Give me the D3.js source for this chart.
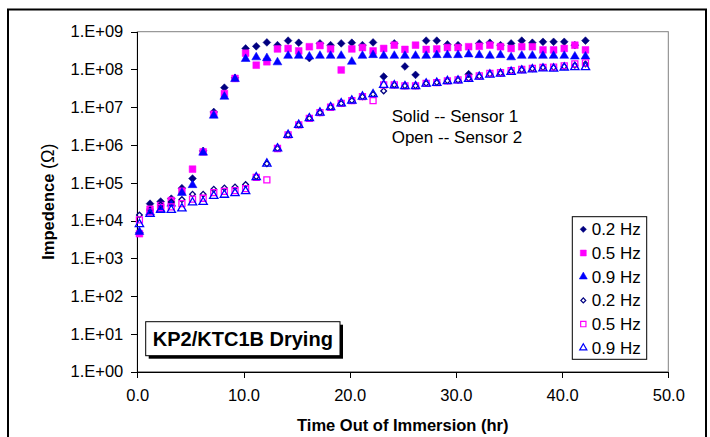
<!DOCTYPE html>
<html lang="en">
<head>
<meta charset="utf-8">
<title>KP2/KTC1B Drying</title>
<script src="https://cdn.jsdelivr.net/npm/d3@7"></script>
<style>
  body { margin: 0; background: #fff; }
  svg { display: block; font-family: "Liberation Sans", Arial, sans-serif; }
  .axis text { font-size: 16.5px; fill: #000; }
  .axis line, .axis path { stroke: #000; shape-rendering: crispEdges; }
</style>
</head>
<body>
<svg id="chart" width="710" height="437"></svg>
<script>
// time out of immersion (hr)
var hours = [0.2, 1.2, 2.2, 3.2, 4.2, 5.2, 6.2, 7.2, 8.2, 9.2, 10.2, 11.2, 12.2, 13.2, 14.2,
  15.2, 16.2, 17.2, 18.2, 19.2, 20.2, 21.2, 22.2, 23.2, 24.2, 25.2, 26.2, 27.2, 28.2, 29.2,
  30.2, 31.2, 32.2, 33.2, 34.2, 35.2, 36.2, 37.2, 38.2, 39.2, 40.2, 41.2, 42.2];

// sensor 1 (solid markers)
var s1_02 = [4.8e3, 2.8e4, 3.2e4, 3.8e4, 7.2e4, 1.3e5, 7.0e5, 7.5e6, 3.3e7, 6.0e7, 3.6e8, 4.1e8, 5.2e8, 4.4e8, 5.8e8,
  5.1e8, 2.0e8, 4.9e8, 4.4e8, 4.9e8, 5.1e8, 4.4e8, 5.2e8, 6.5e7, 4.9e8, 1.2e8, 7.2e7, 5.8e8, 5.8e8, 4.6e8,
  4.4e8, 7.5e7, 4.9e8, 5.1e8, 4.4e8, 4.9e8, 5.8e8, 5.1e8, 5.4e8, 5.4e8, 5.4e8, 4.4e8, 5.8e8];
var s1_05 = [4.5e3, 2.0e4, 2.5e4, 3.4e4, 6.0e4, 2.3e5, 6.6e5, 6.5e6, 2.3e7, 5.8e7, 2.7e8, 1.3e8, 1.6e8, 3.5e8, 3.6e8,
  3.1e8, 4.0e8, 4.3e8, 3.5e8, 9.7e7, 3.5e8, 3.8e8, 3.1e8, 3.6e8, 4.4e8, 3.4e8, 4.4e8, 3.4e8, 3.5e8, 3.8e8,
  3.8e8, 4.0e8, 4.1e8, 4.4e8, 4.0e8, 3.6e8, 4.0e8, 4.0e8, 3.3e8, 3.3e8, 3.6e8, 4.4e8, 3.3e8];
var s1_09 = [5.0e3, 1.65e4, 2.0e4, 2.8e4, 5.4e4, 8.7e4, 6.3e5, 6.0e6, 1.9e7, 5.6e7, 1.9e8, 2.1e8, 2.0e8, 1.55e8, 2.3e8,
  2.3e8, 2.2e8, 2.3e8, 2.3e8, 2.3e8, 1.6e8, 2.3e8, 2.4e8, 2.3e8, 2.3e8, 2.3e8, 2.3e8, 2.3e8, 2.4e8, 2.4e8,
  2.4e8, 2.5e8, 2.4e8, 2.3e8, 2.4e8, 2.1e8, 2.3e8, 2.3e8, 2.3e8, 2.3e8, 2.3e8, 2.2e8, 2.2e8];

// sensor 2 (open markers)
var s2_02 = [1.4e4, 1.9e4, 2.6e4, 3.1e4, 3.6e4, 5.0e4, 5.0e4, 6.8e4, 7.3e4, 7.8e4, 9.0e4, 1.45e5, 3.2e5, 8.1e5, 1.85e6,
  3.4e6, 5.1e6, 7.2e6, 1.0e7, 1.26e7, 1.5e7, 1.9e7, 2.2e7, 2.7e7, 3.9e7, 3.7e7, 3.7e7, 4.3e7, 4.5e7, 5.0e7,
  5.2e7, 5.8e7, 6.6e7, 7.6e7, 8.0e7, 9.0e7, 9.8e7, 1.05e8, 1.12e8, 1.12e8, 1.2e8, 1.3e8, 1.4e8];
var s2_05 = [1.05e4, 1.7e4, 2.2e4, 2.3e4, 2.8e4, 3.7e4, 3.9e4, 5.5e4, 5.9e4, 6.2e4, 7.0e4, 1.4e5, 1.2e5, 8.1e5, 1.85e6,
  3.4e6, 5.1e6, 7.2e6, 1.0e7, 1.26e7, 1.5e7, 1.9e7, 1.5e7, 3.9e7, 3.9e7, 3.7e7, 3.7e7, 4.3e7, 4.5e7, 5.0e7,
  5.3e7, 5.9e7, 6.8e7, 7.9e7, 8.2e7, 9.3e7, 1.0e8, 1.07e8, 1.14e8, 1.15e8, 1.25e8, 1.4e8, 1.5e8];
var s2_09 = [8.0e3, 1.5e4, 1.9e4, 1.9e4, 2.1e4, 3.0e4, 3.1e4, 4.5e4, 4.8e4, 5.3e4, 6.0e4, 1.4e5, 3.2e5, 8.1e5, 1.85e6,
  3.4e6, 5.1e6, 7.2e6, 1.0e7, 1.26e7, 1.5e7, 1.9e7, 2.2e7, 3.9e7, 3.8e7, 3.6e7, 3.6e7, 4.2e7, 4.4e7, 4.9e7,
  5.1e7, 5.6e7, 6.4e7, 7.3e7, 7.7e7, 8.6e7, 9.4e7, 1.0e8, 1.06e8, 1.05e8, 1.12e8, 1.15e8, 1.15e8];

var xTicks = [0, 10, 20, 30, 40, 50];
var yTicks = [1e0, 1e1, 1e2, 1e3, 1e4, 1e5, 1e6, 1e7, 1e8, 1e9];

var series = [
  {name: "0.2 Hz", values: s1_02, shape: "diamond", color: "#000080", open: false},
  {name: "0.5 Hz", values: s1_05, shape: "square", color: "#FF00FF", open: false},
  {name: "0.9 Hz", values: s1_09, shape: "triangle", color: "#0000FF", open: false},
  {name: "0.2 Hz", values: s2_02, shape: "diamond", color: "#000080", open: true},
  {name: "0.5 Hz", values: s2_05, shape: "square", color: "#FF00FF", open: true},
  {name: "0.9 Hz", values: s2_09, shape: "triangle", color: "#0000FF", open: true}
];

var svg = d3.select("#chart");
var plotLeft = 137.3, plotRight = 668.3, plotTop = 31.7, plotBottom = 371.7;

var x = d3.scaleLinear().domain([0, 50]).range([plotLeft, plotRight]);
var y = d3.scaleLog().domain([1, 1e9]).range([plotBottom, plotTop]);

// outer chart border
svg.append("rect")
  .attr("x", 8).attr("y", 9.5).attr("width", 698).attr("height", 440)
  .attr("fill", "none").attr("stroke", "#000").attr("stroke-width", 2);

// plot area frame
svg.append("rect")
  .attr("x", plotLeft).attr("y", plotTop).attr("width", plotRight - plotLeft).attr("height", plotBottom - plotTop)
  .attr("fill", "none").attr("stroke", "#808080").attr("stroke-width", 1);

svg.append("g")
  .attr("class", "axis")
  .attr("transform", "translate(" + plotLeft + ",0)")
  .call(d3.axisLeft(y).tickValues(yTicks).tickSize(6).tickSizeOuter(0).tickPadding(8)
    .tickFormat(function(d) {
      var e = Math.round(Math.log10(d));
      return "1.E+" + (e < 10 ? "0" : "") + e;
    }));

svg.append("g")
  .attr("class", "axis")
  .attr("transform", "translate(0," + plotBottom + ")")
  .call(d3.axisBottom(x).tickValues(xTicks).tickSize(6).tickSizeOuter(0).tickPadding(12)
    .tickFormat(d3.format(".1f")));

// marker generators
function symbolPath(shape) {
  if (shape == "diamond") return d3.symbol(d3.symbolSquare, 30)();
  if (shape == "square") return d3.symbol(d3.symbolSquare, 46)();
  return d3.symbol(d3.symbolTriangle, 34)();
}
function symbolTransform(shape, px, py) {
  return "translate(" + px + "," + py + ")" + (shape == "diamond" ? " rotate(45)" : "");
}
function openPath(shape) {
  if (shape == "diamond") return d3.symbol(d3.symbolSquare, 16)();
  if (shape == "square") return d3.symbol(d3.symbolSquare, 36)();
  return d3.symbol(d3.symbolTriangle, 30)();
}

series.forEach(function(s) {
  svg.append("g")
    .selectAll("path")
    .data(s.values)
    .enter()
    .append("path")
    .attr("d", s.open ? openPath(s.shape) : symbolPath(s.shape))
    .attr("transform", function(d, i) { return symbolTransform(s.shape, x(hours[i]), y(d)); })
    .attr("fill", s.open ? "none" : s.color)
    .attr("stroke", s.color)
    .attr("stroke-width", s.open ? 1.3 : 0.5);
});

// axis titles
svg.append("text")
  .attr("x", (plotLeft + plotRight) / 2).attr("y", 431)
  .attr("text-anchor", "middle")
  .attr("font-weight", "bold").attr("font-size", "16.5px")
  .text("Time Out of Immersion (hr)");

var yt = svg.append("text")
  .attr("transform", "translate(54," + ((plotTop + plotBottom) / 2) + ") rotate(-90)")
  .attr("text-anchor", "middle")
  .attr("font-size", "16.5px");
yt.append("tspan").attr("font-weight", "bold").text("Impedence ");
yt.append("tspan").attr("font-size", "18px").text("(\u03A9)");

// annotation
svg.append("text").attr("x", 391.7).attr("y", 122).attr("font-size", "17px").text("Solid -- Sensor 1");
svg.append("text").attr("x", 391.7).attr("y", 143.3).attr("font-size", "17px").text("Open -- Sensor 2");

// title box with shadow
svg.append("rect").attr("x", 148.7).attr("y", 324.7).attr("width", 194.3).attr("height", 34).attr("fill", "#000");
svg.append("rect").attr("x", 145.7).attr("y", 321.7).attr("width", 194.3).attr("height", 34)
  .attr("fill", "#fff").attr("stroke", "#000").attr("stroke-width", 1);
svg.append("text")
  .attr("x", 145.7 + 194.3 / 2).attr("y", 345.5)
  .attr("text-anchor", "middle")
  .attr("font-weight", "bold").attr("font-size", "20px")
  .text("KP2/KTC1B Drying");

// legend
var legend = svg.append("g");
legend.append("rect")
  .attr("x", 572.3).attr("y", 216.7).attr("width", 74.4).attr("height", 142.6)
  .attr("fill", "#fff").attr("stroke", "#000").attr("stroke-width", 1);

var row = legend.selectAll("g.row")
  .data(series)
  .enter()
  .append("g")
  .attr("class", "row");

row.append("path")
  .attr("d", function(s) {
    if (s.shape == "diamond") return d3.symbol(d3.symbolSquare, s.open ? 12 : 20)();
    if (s.shape == "square") return d3.symbol(d3.symbolSquare, s.open ? 28 : 36)();
    return d3.symbol(d3.symbolTriangle, s.open ? 22 : 28)();
  })
  .attr("transform", function(s, i) { return symbolTransform(s.shape, 583.3, 229.3 + i * 23.7); })
  .attr("fill", function(s) { return s.open ? "none" : s.color; })
  .attr("stroke", function(s) { return s.color; })
  .attr("stroke-width", function(s) { return s.open ? 1.2 : 0.5; });

row.append("text")
  .attr("x", 591.7)
  .attr("y", function(s, i) { return 235.3 + i * 23.7; })
  .attr("font-size", "17px")
  .text(function(s) { return s.name; });
</script>
</body>
</html>
